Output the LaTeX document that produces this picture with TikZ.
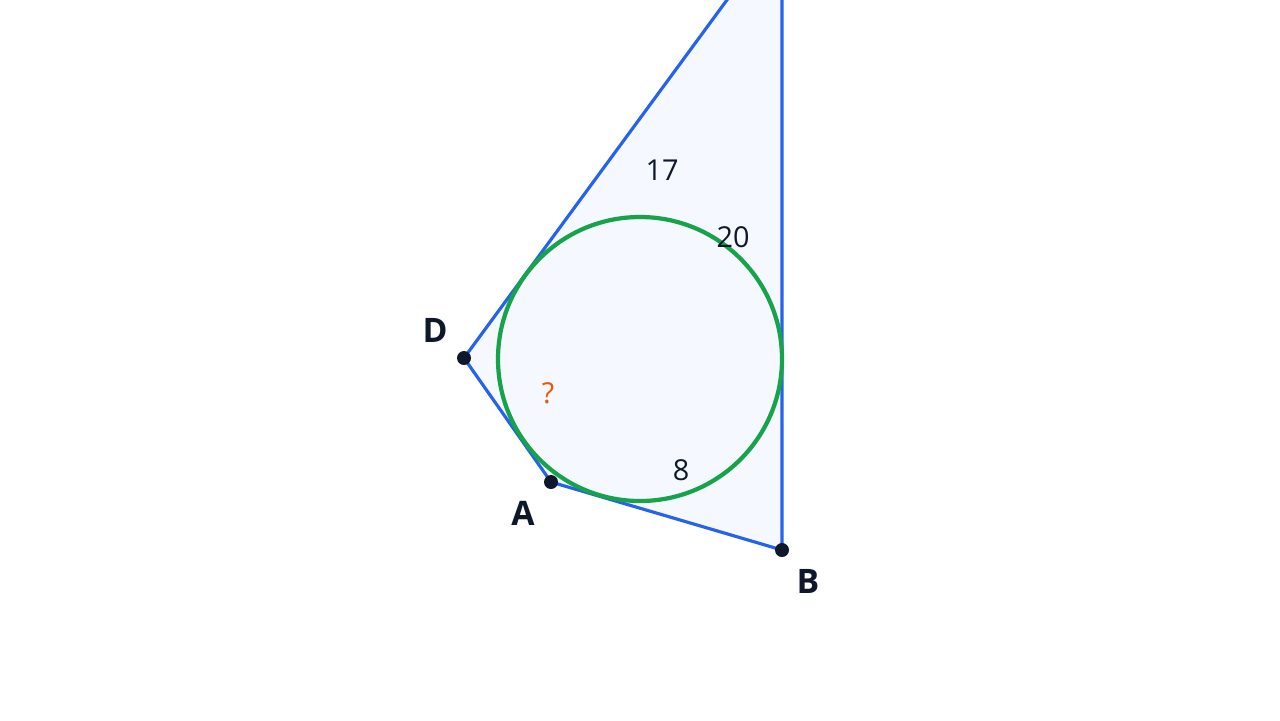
\documentclass[tikz,border=0pt]{standalone}
\usepackage{fontspec}
\setmainfont{Open Sans}
\usetikzlibrary{calc}
\definecolor{edgeblue}{HTML}{2563EB}
\definecolor{circgreen}{HTML}{16A34A}
\definecolor{paleblue}{HTML}{F5F8FE}
\definecolor{inkdark}{HTML}{0F172A}
\definecolor{askorange}{HTML}{EA580C}
\tikzset{side/.style={edgeblue,line width=0.9pt,line join=round},
         vertex/.style={circle,fill=inkdark,inner sep=0pt,minimum size=1.4mm},
         vname/.style={inkdark,font=\bfseries\fontsize{9.6}{11}\selectfont},
         len/.style={inkdark,font=\fontsize{8.2}{10}\selectfont}}

\begin{document}
\begin{tikzpicture}[x=0.1mm,y=-0.1mm]
   \useasboundingbox (0,0) rectangle (1280,720);
   \clip (0,0) rectangle (1280,720);
    \coordinate (d) at (464,358);
    \coordinate (a) at (551,482);
    \coordinate (b) at (782,550);
    \coordinate (c) at (782,-75);
    \coordinate (o) at (640,359);
    \fill[paleblue] (d) -- (a) -- (b) -- (c) -- cycle;
    \draw[side] (d) -- (a) -- (b) -- (c) -- cycle;
    \draw[circgreen,line width=1.2pt] (o) circle (142);
    \node[vertex] (dd) at (d) {};
    \node[vertex] (aa) at (a) {};
    \node[vertex] (bb) at (b) {};
    \node[vname] (ld) at (435,330) {D};
    \node[vname] (la) at (523,513) {A};
    \node[vname] (lb) at (808,581) {B};
    \node[len] (l17) at (662,170) {17};
    \node[len] (l20) at (733,237) {20};
    \node[len] (l8)  at (681,470) {8};
    \node[len,askorange] (lq) at (548,393) {?};
  \end{tikzpicture}
\end{document}
